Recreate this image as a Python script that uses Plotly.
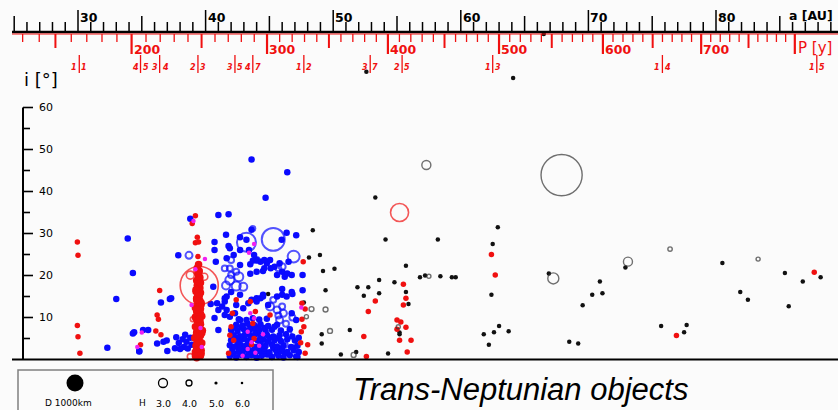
import plotly.graph_objects as go

# ------------------------------------------------------------------
# Data: semi-major axis a [AU] and inclination i [deg]
# ------------------------------------------------------------------

# scattered / detached objects (small, drawn as dots)
sdo_a = [52.6, 64.1, 66.5, 53.3, 48.4, 54.1, 58.2, 62.9, 62.5, 62.4, 48.1, 48.96,
         49.2, 50.1, 49.4, 47.7, 49.1, 49.1, 44.9, 55.7, 53.6, 54.8, 51.9, 52.75,
         55.7, 53.6, 52.4, 55.9, 56.8, 57.2, 58.4, 59.3, 59.6, 51.3, 55.2, 55.2,
         50.6, 51.8, 54.3, 61.8, 62.6, 63.0, 63.75, 62.2, 66.9, 72.9, 80.5, 70.9,
         70.3, 71.1, 69.55, 68.5, 69.2, 75.7, 77.7, 77.5, 81.9, 82.5, 85.4, 85.7,
         86.8, 88.2]
sdo_i = [68.5, 67.0, 77.5, 38.6, 30.8, 28.6, 28.6, 31.5, 27.5, 15.4, 24.3, 24.9,
         21.1, 21.6, 16.5, 13.6, 6.0, 3.8, 15.6, 22.3, 18.9, 18.4, 17.2, 17.2,
         16.1, 15.8, 15.2, 13.2, 19.6, 20.0, 19.8, 19.6, 19.6, 7.0, 6.4, 6.0,
         1.2, 1.8, 1.4, 6.0, 6.5, 8.0, 6.7, 3.5, 20.5, 21.9, 23.0, 18.6,
         15.4, 15.8, 12.9, 4.2, 3.8, 8.0, 8.2, 6.5, 16.1, 14.2, 20.6, 12.7,
         18.6, 19.6]

# scattered / detached objects large enough to show their size (diameter km)
sdo_big_a = [67.9, 57.3, 67.25, 73.1, 76.4, 83.3, 48.3, 49.4, 49.75, 47.9, 57.5, 55.1, 51.6]
sdo_big_i = [43.9, 46.3, 19.3, 23.3, 26.3, 23.9, 12.0, 11.9, 6.8, 10.2, 19.8, 7.8, 1.1]
sdo_big_d = [2420, 530, 650, 530, 260, 240, 290, 290, 290, 240, 240, 240, 290]

# classical belt objects (dots)
cla_a = [33.9, 34.3, 33.0, 36.5, 34.4, 35.1, 35.5, 32.3, 34.8, 36.2, 36.95, 37.0,
         37.2, 37.86, 38.8, 41.0, 41.8, 43.6, 46.4, 44.7, 40.7, 40.7, 40.8, 41.6,
         41.8, 41.9, 42.2, 41.65, 42.7, 43.4, 43.6, 43.2, 45.96, 46.35, 47.1, 42.7,
         43.5, 44.0, 44.3, 44.8, 43.5, 44.0, 44.5, 45.05, 45.4, 45.8, 46.0, 46.5,
         46.2, 45.6, 42.7, 43.8, 43.7, 44.6, 44.6, 45.1, 46.4, 46.75, 47.6, 46.0,
         46.8, 47.6, 40.6, 41.5, 42.0, 42.7, 41.0, 41.65, 44.0, 44.5, 45.6, 46.0,
         46.75, 46.35, 46.75, 47.1, 40.9, 41.3, 41.5, 41.9, 42.3, 42.7, 41.5, 41.65,
         42.4, 42.95, 43.35, 43.6, 44.3, 44.5, 44.0, 44.9, 40.4, 40.7, 41.0, 36.7,
         37.6, 37.9, 38.2, 38.5, 38.8, 38.3, 38.6, 37.7, 38.0, 38.9, 38.4, 34.3,
         34.8, 37.3, 47.3, 47.0, 46.8, 46.6, 47.3, 46.9, 47.2,
         # dense low-inclination core
         41.9, 42.4, 42.8, 43.2, 43.6, 44.0, 44.4, 44.8, 45.2, 45.7, 46.1, 46.6, 47.1,
         42.2, 42.9, 43.4, 43.9, 44.5, 45.0, 45.6, 46.2,
         42.1, 42.6, 43.0, 43.4, 43.8, 44.2, 44.6, 45.0, 45.5, 45.9, 46.4, 46.9,
         42.1, 42.6, 43.3, 44.0, 44.6, 45.3, 46.0,
         41.9, 42.3, 42.7, 43.1, 43.5, 43.9, 44.3, 44.7, 45.2, 45.6, 46.1, 46.7, 47.2,
         42.0, 42.5, 42.9, 43.3, 43.7, 44.1, 44.5, 44.9, 45.4, 45.9, 46.4,
         42.3, 43.0, 43.6, 44.3, 45.0, 45.7,
         42.2, 42.7, 43.1, 43.5, 43.9, 44.3, 44.8, 45.3, 45.8, 46.3,
         42.0, 42.5, 43.0, 43.4, 43.8, 44.2, 44.7, 45.2, 45.9,
         42.3, 42.8, 43.5, 44.1, 44.6, 45.4,
         42.4, 42.9, 43.3, 43.8, 44.3, 44.9, 45.6,
         42.6, 43.2, 43.7, 44.2, 44.8]
cla_i = [28.8, 20.6, 14.4, 13.6, 6.5, 7.0, 7.0, 2.8, 2.0, 3.8, 4.5, 2.0,
         14.4, 24.8, 33.5, 34.4, 34.6, 47.6, 44.6, 38.5, 28.0, 26.1, 23.3, 29.7,
         27.0, 26.5, 24.9, 24.1, 29.1, 26.1, 30.9, 28.5, 28.5, 30.2, 29.6, 22.5,
         22.7, 23.7, 23.3, 22.9, 20.4, 20.9, 21.1, 23.7, 22.1, 22.9, 20.9, 23.3,
         19.7, 20.1, 26.1, 24.9, 23.5, 23.7, 21.7, 21.7, 20.5, 20.1, 20.1, 16.8,
         15.6, 16.5, 17.3, 14.6, 16.1, 15.4, 11.8, 11.8, 14.6, 15.0, 15.0, 15.4,
         16.1, 15.0, 11.0, 9.4, 13.4, 12.6, 10.6, 10.2, 11.0, 9.4, 13.8, 15.0,
         13.0, 12.2, 13.4, 14.2, 14.6, 15.4, 13.8, 13.0, 13.2, 9.9, 7.0, 4.2,
         2.7, 3.9, 4.8, 4.2, 5.2, 3.0, 2.6, 5.3, 2.5, 3.5, 5.9, 6.2,
         1.9, 14.6, 1.8, 4.5, 5.5, 7.2, 5.2, 2.8, 0.6,
         0.8, 0.5, 1.1, 0.6, 1.0, 0.4, 0.9, 1.2, 0.6, 0.9, 0.5, 1.0, 0.7,
         1.4, 1.5, 1.3, 1.6, 1.4, 1.2, 1.5, 1.4,
         2.1, 1.8, 2.3, 1.9, 2.4, 2.0, 2.2, 1.7, 2.3, 2.0, 1.8, 2.2,
         2.8, 2.7, 2.6, 2.9, 2.7, 2.8, 2.6,
         3.4, 3.1, 3.6, 3.2, 3.7, 3.0, 3.5, 3.3, 3.6, 3.1, 3.4, 3.0, 3.3,
         4.6, 4.3, 4.8, 4.4, 4.9, 4.5, 4.7, 4.3, 4.6, 4.4, 4.8,
         5.1, 5.2, 5.3, 5.0, 5.2, 5.1,
         5.8, 5.5, 6.0, 5.6, 6.1, 5.7, 5.9, 5.5, 5.8, 6.0,
         7.0, 6.8, 7.2, 6.9, 7.3, 7.0, 6.8, 7.1, 6.9,
         7.6, 7.7, 7.8, 7.6, 7.5, 7.8,
         8.3, 8.1, 8.5, 8.2, 8.4, 8.0, 8.3,
         9.6, 9.4, 9.8, 9.5, 9.7]

# classical belt objects with visible size (diameter km)
cla_big_a = [43.2, 45.3, 46.9, 43.7, 38.7, 41.9, 42.6, 42.4, 41.6, 42.95, 41.5, 41.9,
             42.4, 42.0, 42.0, 44.0, 45.7, 46.0, 45.05, 45.6, 46.1, 45.8, 45.3, 46.0,
             45.7, 46.3, 46.8, 46.5, 42.6, 43.9, 44.8, 45.5, 46.2, 43.2]
cla_big_i = [27.9, 28.6, 24.5, 31.2, 24.8, 18.9, 19.7, 17.5, 17.6, 17.3, 21.7, 21.7,
             20.9, 20.1, 23.7, 23.7, 21.7, 22.1, 12.6, 11.8, 11.0, 9.4, 14.2, 12.6,
             10.5, 8.5, 10.0, 6.0, 5.5, 6.5, 4.5, 2.5, 3.5, 1.5]
cla_big_d = [1120, 1350, 700, 300, 410, 530, 530, 530, 470, 470, 350, 350,
             350, 350, 350, 350, 350, 410, 470, 410, 410, 410, 350, 350,
             350, 350, 350, 350, 350, 410, 350, 350, 350, 350]

# resonant objects (dots), excluding the 2:3 plutino column
res_a = [29.95, 30.0, 29.95, 30.0, 30.15, 36.4, 36.2, 36.3, 36.1, 36.5, 34.9, 39.2,
         38.95, 39.35, 39.2, 39.45, 39.4, 42.4, 42.1, 42.0, 41.8, 42.2, 43.5, 43.9,
         43.7, 43.6, 45.05, 47.65, 47.55, 47.8, 47.55, 47.7, 47.5, 47.45, 48.0, 47.8,
         53.3, 52.75, 52.4, 52.6, 55.5, 55.7, 55.5, 55.0, 55.3, 55.0, 55.7, 55.2,
         56.1, 55.8, 62.4, 62.7, 76.9, 87.7, 41.9, 43.8]
res_i = [28.0, 24.8, 8.1, 5.4, 1.5, 16.4, 10.6, 9.6, 6.8, 5.9, 3.5, 34.2,
         32.4, 29.1, 27.8, 28.0, 24.5, 14.2, 11.0, 7.8, 1.5, 4.6, 13.8, 11.4,
         8.6, 3.6, 10.6, 23.3, 13.4, 12.0, 9.6, 7.8, 6.6, 4.0, 3.5, 1.5,
         13.9, 11.4, 5.5, 0.7, 17.9, 14.6, 13.0, 9.4, 8.9, 7.2, 7.7, 4.6,
         4.6, 1.8, 25.0, 20.1, 5.7, 20.8, 5.8, 5.0]

# plutinos in the 2:3 resonance
plu_a = [39.3, 39.6, 39.45, 39.2, 39.65, 39.4, 39.55, 39.25, 39.7, 39.35, 39.5, 39.15,
         39.6, 39.4, 39.3, 39.75, 39.5, 39.2, 39.45, 39.6, 39.35, 39.55, 39.25, 39.7,
         39.4, 39.5, 39.3, 39.6, 39.2, 39.45, 39.65, 39.35, 39.55, 39.3, 39.5, 39.4,
         39.6, 39.25, 39.45, 39.55, 39.35, 39.5, 39.4, 39.3, 39.55, 39.45, 39.4, 39.5,
         39.35, 39.45, 39.2, 39.65, 39.3, 39.6, 39.25, 39.7, 39.4, 39.55, 39.2, 39.6,
         39.35, 39.65, 39.3, 39.5, 39.25, 39.6, 39.45, 39.35]
plu_i = [0.4, 0.9, 1.5, 1.8, 2.2, 2.7, 3.1, 3.3, 3.9, 4.4, 4.6, 5.1,
         5.7, 6.0, 6.5, 6.9, 7.1, 7.8, 8.2, 8.4, 9.1, 9.3, 9.8, 10.3,
         10.6, 11.2, 11.4, 12.1, 12.3, 12.9, 13.1, 13.8, 14.0, 14.6, 15.1, 15.3,
         15.9, 16.2, 16.8, 17.0, 17.7, 17.9, 18.6, 18.8, 19.5, 19.7, 20.5, 21.1,
         21.8, 22.6, 0.9, 1.4, 2.5, 3.6, 5.6, 6.3, 7.4, 8.8, 10.1, 10.9,
         11.8, 13.5, 14.3, 15.6, 16.6, 18.3, 9.6, 4.0]

# resonant objects with visible size (diameter km)
res_big_a = [39.5, 55.2, 39.4, 38.8, 39.9, 39.0, 38.8]
res_big_i = [17.6, 35.0, 20.9, 20.1, 19.7, 9.6, 0.7]
res_big_d = [2240, 1060, 470, 470, 410, 290, 350]

# objects plotted in magenta
mag_a = [39.05, 39.95, 35.0, 34.65, 43.8, 43.4, 43.5, 43.3, 43.8, 47.5, 38.9, 39.6,
         43.3, 43.6, 43.9, 44.2, 42.9, 44.5, 39.2, 39.7]
mag_i = [33.0, 23.9, 6.4, 3.0, 27.5, 25.4, 11.0, 6.6, 9.8, 12.4, 13.0, 7.5,
         2.5, 4.1, 1.6, 3.3, 0.9, 6.0, 21.5, 3.0]

# mean-motion resonances with Neptune: label and semi-major axis [AU]
reson_lbl = [("1", "1"), ("4", "5"), ("3", "4"), ("2", "3"), ("3", "5"), ("4", "7"),
             ("1", "2"), ("3", "7"), ("2", "5"), ("1", "3"), ("1", "4"), ("1", "5")]
reson_a = [30.1, 34.9, 36.4, 39.4, 42.3, 43.7, 47.7, 52.9, 55.4, 62.5, 75.8, 87.9]

# axis ticks
a_ticks = list(range(25, 90))          # AU
p_ticks = list(range(130, 810, 10))    # orbital period in years
i_ticks = list(range(5, 65, 5))        # degrees

# legend entries
legend_h = ["3.0", "4.0", "5.0", "6.0"]

# ------------------------------------------------------------------
# Layout geometry (pixels of the 838 x 410 canvas)
# ------------------------------------------------------------------
W, H = 838, 410
PX_PER_AU = 12.76
X_AT_30 = 78.0
PX_PER_DEG = 4.2
Y_AT_0 = 359.5
KM_TO_PX = 17.0 / 1000.0     # a 1000 km body is drawn 17 px across

x_range = [30 - X_AT_30 / PX_PER_AU, 30 + (W - X_AT_30) / PX_PER_AU]
y_range = [(Y_AT_0 - H) / PX_PER_DEG, Y_AT_0 / PX_PER_DEG]


def yp(p):
    """paper y for a pixel row"""
    return 1 - p / H


def xp(p):
    """paper x for a pixel column"""
    return p / W


BLUE = "#0a0aff"
RED = "#f01010"
MAG = "#f020f0"
BLACK = "#111111"

fig = go.Figure()


def dots(a, i, color, size):
    fig.add_trace(go.Scatter(x=a, y=i, mode="markers", hoverinfo="skip",
                             marker=dict(size=size, color=color, line=dict(width=0))))


def rings(a, i, d, color, width=1.5):
    fig.add_trace(go.Scatter(x=a, y=i, mode="markers", hoverinfo="skip",
                             marker=dict(symbol="circle-open",
                                         size=[v * KM_TO_PX for v in d],
                                         color=color, line=dict(width=width))))


dots(sdo_a, sdo_i, BLACK, 4.5)
dots(cla_a, cla_i, BLUE, 6.5)
rings(cla_big_a, cla_big_i, cla_big_d, BLUE, 2.0)
dots(res_a, res_i, RED, 5.5)
dots(plu_a, plu_i, RED, 7.5)
rings(res_big_a, res_big_i, res_big_d, RED, 1.6)
dots(mag_a, mag_i, MAG, 4.5)
rings(sdo_big_a, sdo_big_i, sdo_big_d, "#333333", 1.4)

shapes = []
ann = []

# --- top scale: semi-major axis (black) ---
shapes.append(dict(type="line", xref="paper", yref="paper", x0=xp(12), x1=1,
                   y0=yp(32), y1=yp(32), line=dict(color="black", width=2.5)))
shapes.append(dict(type="line", xref="paper", yref="paper", x0=xp(12), x1=1,
                   y0=yp(34), y1=yp(34), line=dict(color=RED, width=1.2)))
for t in a_ticks:
    top = 10 if t % 10 == 0 else (16 if t % 5 == 0 else 22)
    shapes.append(dict(type="line", xref="x", yref="paper", x0=t, x1=t,
                       y0=yp(top), y1=yp(32), line=dict(color="black", width=1.5)))
    if t % 10 == 0 and t < 90:
        ann.append(dict(x=t, y=yp(17), xref="x", yref="paper", text="<b>%d</b>" % t,
                        showarrow=False, xanchor="left", yanchor="middle", xshift=0,
                        font=dict(family="DejaVu Sans", size=12.5, color="black")))
ann.append(dict(x=xp(787), y=yp(15), xref="paper", yref="paper", text="<b>a [AU]</b>",
                showarrow=False, xanchor="left", yanchor="middle",
                font=dict(family="DejaVu Sans", size=12.5, color="black")))

# --- period scale (red), period P in years, a = P^(2/3) ---
for p in p_ticks:
    a = p ** (2.0 / 3.0)
    if p % 100 == 0:
        bot, w = 54, 2.2
    elif p % 50 == 0:
        bot, w = 48, 2.0
    else:
        bot, w = 42, 1.3
    shapes.append(dict(type="line", xref="x", yref="paper", x0=a, x1=a,
                       y0=yp(34), y1=yp(bot), line=dict(color=RED, width=w)))
    if p % 100 == 0 and p < 800:
        ann.append(dict(x=a, y=yp(49), xref="x", yref="paper", text="<b>%d</b>" % p,
                        showarrow=False, xanchor="left", yanchor="middle", xshift=0,
                        font=dict(family="DejaVu Sans", size=12.5, color=RED)))
ann.append(dict(x=800 ** (2.0 / 3.0), y=yp(48), xref="x", yref="paper", text="P [y]",
                showarrow=False, xanchor="left", yanchor="middle", xshift=1,
                font=dict(family="DejaVu Sans", size=15, color=RED)))

# --- resonance markers ---
for (n1, n2), a in zip(reson_lbl, reson_a):
    shapes.append(dict(type="line", xref="x", yref="paper", x0=a, x1=a,
                       y0=yp(55), y1=yp(73), line=dict(color=RED, width=1.3)))
    ann.append(dict(x=a, y=yp(67), xref="x", yref="paper", text="<b><i>%s</i></b>" % n1,
                    showarrow=False, xanchor="right", yanchor="middle", xshift=0,
                    font=dict(family="DejaVu Sans", size=8, color=RED)))
    ann.append(dict(x=a, y=yp(67), xref="x", yref="paper", text="<b><i>%s</i></b>" % n2,
                    showarrow=False, xanchor="left", yanchor="middle", xshift=0,
                    font=dict(family="DejaVu Sans", size=8, color=RED)))

# --- inclination axis ---
shapes.append(dict(type="line", xref="paper", yref="y", x0=xp(23), x1=xp(23),
                   y0=0, y1=60, line=dict(color="black", width=2)))
for t in i_ticks:
    right = 33 if t % 10 == 0 else 30
    shapes.append(dict(type="line", xref="paper", yref="y", x0=xp(23), x1=xp(right),
                       y0=t, y1=t, line=dict(color="black", width=1.6)))
    if t % 10 == 0:
        ann.append(dict(x=xp(37), y=t, xref="paper", yref="y", text="%d" % t,
                        showarrow=False, xanchor="left", yanchor="middle",
                        font=dict(family="DejaVu Sans", size=11, color="black")))
ann.append(dict(x=xp(22), y=yp(80), xref="paper", yref="paper", text="i [°]",
                showarrow=False, xanchor="left", yanchor="middle",
                font=dict(family="DejaVu Sans", size=18, color="black")))

# baseline (i = 0)
shapes.append(dict(type="line", xref="paper", yref="y", x0=xp(12), x1=1,
                   y0=0, y1=0, line=dict(color="black", width=2)))

# --- size legend ---
shapes.append(dict(type="rect", xref="paper", yref="paper", x0=xp(18), x1=xp(273),
                   y0=yp(370), y1=yp(425), line=dict(color="#808080", width=1.5)))
r = 1000 * KM_TO_PX / 2
shapes.append(dict(type="circle", xref="paper", yref="paper",
                   x0=xp(75 - r), x1=xp(75 + r), y0=yp(383 + r), y1=yp(383 - r),
                   fillcolor="black", line=dict(color="black", width=0)))
ann.append(dict(x=xp(68), y=yp(403), xref="paper", yref="paper", text="D 1000km",
                showarrow=False, xanchor="center", yanchor="middle",
                font=dict(family="DejaVu Sans", size=9, color="black")))
ann.append(dict(x=xp(142), y=yp(403), xref="paper", yref="paper", text="H",
                showarrow=False, xanchor="center", yanchor="middle",
                font=dict(family="DejaVu Sans", size=9, color="black")))
leg_x = [163, 189, 216, 242]
leg_r = [4.5, 3.0, 1.6, 1.3]
for k, (h, cx, rr) in enumerate(zip(legend_h, leg_x, leg_r)):
    filled = k >= 2
    shapes.append(dict(type="circle", xref="paper", yref="paper",
                       x0=xp(cx - rr), x1=xp(cx + rr), y0=yp(383 + rr), y1=yp(383 - rr),
                       fillcolor="black" if filled else "rgba(0,0,0,0)",
                       line=dict(color="black", width=0 if filled else 1.3)))
    ann.append(dict(x=xp(cx), y=yp(403), xref="paper", yref="paper", text=h,
                    showarrow=False, xanchor="center", yanchor="middle",
                    font=dict(family="DejaVu Sans", size=9.5, color="black")))

# --- title ---
ann.append(dict(x=xp(520), y=yp(389), xref="paper", yref="paper",
                text="<i>Trans-Neptunian objects</i>", showarrow=False,
                xanchor="center", yanchor="middle",
                font=dict(family="Liberation Sans", size=31, color="black")))

fig.update_layout(
    width=W, height=H, margin=dict(l=0, r=0, t=0, b=0),
    paper_bgcolor="#fbfbfb", plot_bgcolor="#fbfbfb",
    showlegend=False,
    xaxis=dict(visible=False, range=x_range, fixedrange=True),
    yaxis=dict(visible=False, range=y_range, fixedrange=True),
    shapes=shapes, annotations=ann,
)

fig.write_html("out.html")
